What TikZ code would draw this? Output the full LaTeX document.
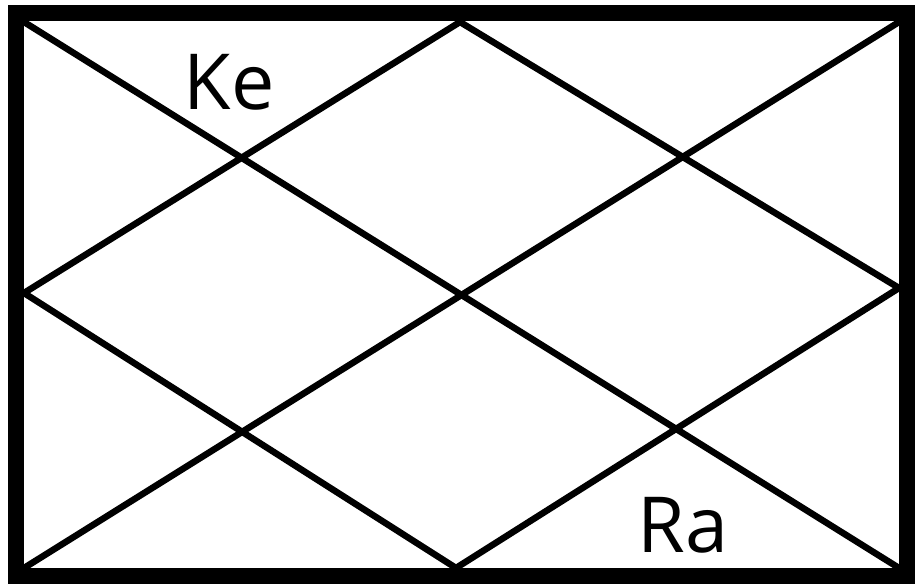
\documentclass[tikz,border=0pt]{standalone}
\usepackage{fontspec}
\setmainfont{Open Sans}

\begin{document}
\begin{tikzpicture}[x=0.02cm,y=-0.02cm,line join=miter,
  frame/.style={line width=9pt},
  chartline/.style={line width=3.7pt,line cap=round},
  house/.style={font=\fontsize{44}{44}\selectfont,inner sep=0pt,anchor=base}]
\useasboundingbox (0,0) rectangle (915,587);
% corners and side midpoints (inner edge of the frame)
\coordinate (NW) at (24,22);
\coordinate (NE) at (899,22);
\coordinate (SW) at (24,568);
\coordinate (SE) at (899,568);
\coordinate (N) at (460,22);
\coordinate (S) at (456,568);
\coordinate (W) at (24,293);
\coordinate (E) at (899,288);
% two diagonals
\draw[chartline] (NW) -- (SE);
\draw[chartline] (NE) -- (SW);
% inner diamond
\draw[chartline] (N) -- (W) -- (S) -- (E) -- cycle;
% outer frame
\draw[frame] (16,13) rectangle (907,576);
% planet labels
\node[house] (ke) at (229,110) {Ke};
\node[house] (ra) at (683,552) {Ra};
\end{tikzpicture}
\end{document}
